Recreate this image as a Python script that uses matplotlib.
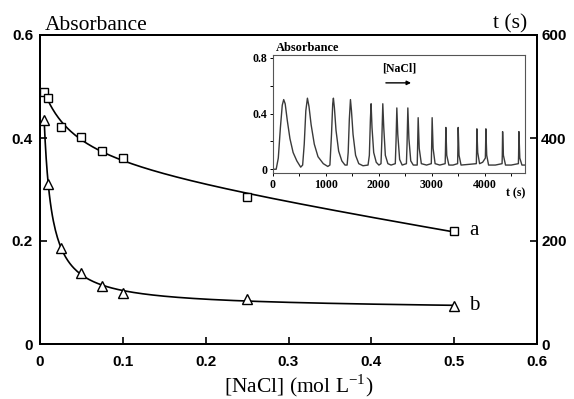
import numpy as np
import matplotlib
matplotlib.use("Agg")
import matplotlib.pyplot as plt

# main plot data
nacl = [0.005, 0.01, 0.025, 0.05, 0.075, 0.1, 0.25, 0.5]
abs_a = [0.489, 0.478, 0.422, 0.401, 0.375, 0.362, 0.285, 0.220]
abs_b = [0.435, 0.311, 0.187, 0.138, 0.113, 0.100, 0.087, 0.074]

x_ticks = [0, 0.1, 0.2, 0.3, 0.4, 0.5, 0.6]
y_ticks = [0, 0.2, 0.4, 0.6]
t_ticks = [0, 200, 400, 600]

# inset trace vertices (time in s, absorbance)
trace_t = [0, 60, 100, 140, 175, 202, 230, 270, 320, 380, 450, 523,
           560, 590, 620, 650, 680, 720, 780, 850, 950, 1035,
           1075, 1105, 1128, 1141, 1160, 1190, 1240, 1300, 1360, 1400,
           1420, 1442, 1463, 1482, 1512, 1560, 1620, 1700, 1795,
           1820, 1840, 1853, 1870, 1902, 1950, 2000, 2040,
           2055, 2074, 2092, 2122, 2170, 2230, 2310,
           2324, 2339, 2357, 2392, 2440, 2520,
           2532, 2547, 2567, 2602, 2650, 2724,
           2731, 2742, 2762, 2802, 2900, 2990,
           2996, 3006, 3024, 3062, 3150, 3252,
           3257, 3265, 3282, 3322, 3400, 3487,
           3491, 3498, 3514, 3552, 3700, 3841,
           3845, 3851, 3867, 3902, 3960, 4011,
           4015, 4021, 4037, 4072, 4200, 4327,
           4331, 4337, 4352, 4392, 4500, 4635,
           4639, 4645, 4662, 4702, 4760]
trace_a = [0.0, 0.0, 0.08, 0.30, 0.46, 0.50, 0.47, 0.35, 0.22, 0.12, 0.06, 0.015,
           0.03, 0.18, 0.42, 0.51, 0.45, 0.32, 0.18, 0.09, 0.04, 0.02,
           0.03, 0.25, 0.47, 0.51, 0.44, 0.28, 0.13, 0.06, 0.03, 0.03,
           0.12, 0.36, 0.50, 0.42, 0.25, 0.10, 0.04, 0.025, 0.03,
           0.10, 0.36, 0.47, 0.30, 0.12, 0.05, 0.03, 0.04,
           0.20, 0.47, 0.30, 0.10, 0.04, 0.03, 0.04,
           0.20, 0.44, 0.25, 0.07, 0.03, 0.04,
           0.18, 0.44, 0.22, 0.06, 0.03, 0.03,
           0.15, 0.37, 0.15, 0.04, 0.03, 0.04,
           0.15, 0.37, 0.15, 0.04, 0.03, 0.04,
           0.12, 0.30, 0.10, 0.03, 0.03, 0.04,
           0.12, 0.30, 0.10, 0.03, 0.035, 0.04,
           0.12, 0.29, 0.12, 0.04, 0.05, 0.08,
           0.15, 0.29, 0.10, 0.03, 0.03, 0.04,
           0.10, 0.27, 0.10, 0.03, 0.03, 0.04,
           0.10, 0.27, 0.08, 0.03, 0.03]

inset_x_ticks = [0, 1000, 2000, 3000, 4000]
inset_y_ticks = [0, 0.4, 0.8]


def fit_curve(x, y, xs):
    # least squares fit y = p0 + p1*x + p2/(x + d), d picked by grid search
    x = np.asarray(x)
    y = np.asarray(y)
    best_err, best = None, None
    for d in np.linspace(0.001, 0.3, 600):
        A = np.column_stack([np.ones_like(x), x, 1 / (x + d)])
        coef = np.linalg.lstsq(A, y, rcond=None)[0]
        err = np.sum((A @ coef - y) ** 2)
        if best_err is None or err < best_err:
            best_err, best = err, (coef, d)
    coef, d = best
    return coef[0] + coef[1] * xs + coef[2] / (xs + d)


plt.rcParams["mathtext.fontset"] = "custom"
plt.rcParams["mathtext.rm"] = "Liberation Serif"

fig = plt.figure(figsize=(5.74, 3.99), dpi=100)
ax = fig.add_axes([40 / 574, 1 - 344 / 399, 497 / 574, 309 / 399])

xs = np.linspace(nacl[0], nacl[-1], 400)
ax.plot(xs, fit_curve(nacl, abs_a, xs), color="black", lw=1.2)
ax.plot(xs, fit_curve(nacl, abs_b, xs), color="black", lw=1.2)
ax.plot(nacl, abs_a, "s", mfc="white", mec="black", ms=6, mew=1.0)
ax.plot(nacl, abs_b, "^", mfc="white", mec="black", ms=6.5, mew=1.0)

ax.text(0.518, abs_a[-1], "a", family="Liberation Serif", fontsize=15, va="center")
ax.text(0.518, abs_b[-1], "b", family="Liberation Serif", fontsize=15, va="center")

ax.set_xlim(0, 0.6)
ax.set_ylim(0, 0.6)
ax.set_xticks(x_ticks)
ax.set_xticklabels(["0", "0.1", "0.2", "0.3", "0.4", "0.5", "0.6"])
ax.set_yticks(y_ticks)
ax.set_yticklabels(["0", "0.2", "0.4", "0.6"])
ax.tick_params(direction="in", length=5, width=1.2, labelsize=11)
ax.tick_params(axis="x", pad=8)
ax.tick_params(axis="y", pad=5)
for lab in ax.get_xticklabels() + ax.get_yticklabels():
    lab.set_fontweight("bold")
    lab.set_family("Liberation Sans")
for sp in ax.spines.values():
    sp.set_linewidth(1.4)

ax2 = ax.twinx()
ax2.set_ylim(0, 600)
ax2.set_yticks(t_ticks)
ax2.set_yticklabels([str(t) for t in t_ticks])
ax2.tick_params(direction="in", length=5, width=1.2, labelsize=11, pad=3)
for lab in ax2.get_yticklabels():
    lab.set_fontweight("bold")
    lab.set_family("Liberation Sans")
for sp in ax2.spines.values():
    sp.set_linewidth(1.4)

fig.text(45 / 574, 1 - 30 / 399, "Absorbance", family="Liberation Serif", fontsize=15.5)
fig.text(527 / 574, 1 - 28 / 399, "t (s)", family="Liberation Serif", fontsize=15.5, ha="right")
fig.text(299 / 574, 1 - 392 / 399, r"[NaCl] (mol L$^{\mathrm{-1}}$)",
         family="Liberation Serif", fontsize=15.5, ha="center")

# inset with the oscillation trace
ins = fig.add_axes([273 / 574, 1 - 173 / 399, 252 / 574, 118 / 399])
ins.plot(trace_t, trace_a, color="#3a3a3a", lw=1.0)
ins.set_xlim(0, 4760)
ins.set_ylim(-0.027, 0.82)
ins.set_xticks(inset_x_ticks)
ins.set_xticks(np.arange(500, 4760, 1000), minor=True)
ins.set_yticks(inset_y_ticks)
ins.set_yticklabels(["0", "0.4", "0.8"])
ins.set_yticks([0.2, 0.6], minor=True)
ins.tick_params(which="both", direction="out", length=2, width=0.7, labelsize=8.5, pad=2)
for lab in ins.get_xticklabels() + ins.get_yticklabels():
    lab.set_fontweight("bold")
    lab.set_family("Liberation Serif")
for sp in ins.spines.values():
    sp.set_linewidth(0.8)
    sp.set_color("#555555")
ins.text(0.01, 1.03, "Absorbance", transform=ins.transAxes, family="Liberation Serif",
         fontsize=9, fontweight="bold")
ins.text(1.0, -0.2, "t (s)", transform=ins.transAxes, family="Liberation Serif",
         fontsize=8.5, fontweight="bold", ha="right")
ins.text(2380, 0.7, "[NaCl]", family="Liberation Serif", fontsize=8.5, fontweight="bold",
         ha="center")
ins.annotate("", xy=(2660, 0.62), xytext=(2080, 0.62),
             arrowprops=dict(arrowstyle="-|>", color="black", lw=1.0, mutation_scale=6))

fig.savefig("out.png", dpi=100)
